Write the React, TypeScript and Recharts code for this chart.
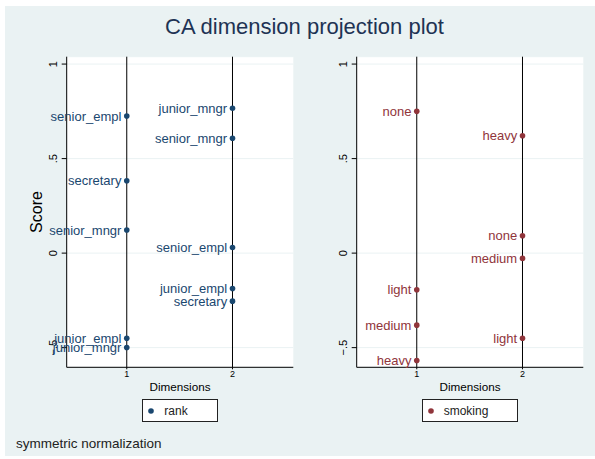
import {
  ScatterChart,
  Scatter,
  XAxis,
  YAxis,
  CartesianGrid,
  ReferenceLine,
  LabelList,
  Legend,
} from "recharts";

// rank categories, score on dimension 1 and dimension 2
const rankLabels = ["senior_mngr", "junior_mngr", "senior_empl", "junior_empl", "secretary"];
const rankDim1 = [0.122, -0.499, 0.725, -0.45, 0.383];
const rankDim2 = [0.608, 0.766, 0.03, -0.187, -0.254];

// smoking categories
const smokingLabels = ["none", "light", "medium", "heavy"];
const smokingDim1 = [0.75, -0.194, -0.381, -0.568];
const smokingDim2 = [0.092, -0.45, -0.028, 0.621];

const dimTicks = [1, 2];
const scoreTicks = [-0.5, 0, 0.5, 1];
const scoreTickLabels = ["\u2212.5", "0", ".5", "1"];

const FONT = '"Liberation Sans", Arial, Helvetica, sans-serif';
const BG = "#eaf2f3";
const NAVY = "#1a476f";
const MAROON = "#90353b";

function toPoints(labels: string[], d1: number[], d2: number[]) {
  const pts: { x: number; y: number; label: string }[] = [];
  labels.forEach((l, i) => {
    pts.push({ x: 1, y: d1[i], label: l });
    pts.push({ x: 2, y: d2[i], label: l });
  });
  return pts;
}

const rankPoints = toPoints(rankLabels, rankDim1, rankDim2);
const smokingPoints = toPoints(smokingLabels, smokingDim1, smokingDim2);

function ScoreTick(props: any) {
  const { x, y, payload } = props;
  const idx = scoreTicks.indexOf(payload.value);
  const bx = x - 5;
  return (
    <text
      x={bx}
      y={y}
      transform={`rotate(-90, ${bx}, ${y})`}
      textAnchor="middle"
      fontSize={11}
      fill="#000"
    >
      {idx >= 0 ? scoreTickLabels[idx] : payload.value}
    </text>
  );
}

function Panel({
  name,
  color,
  points,
  left,
  showScore,
}: {
  name: string;
  color: string;
  points: { x: number; y: number; label: string }[];
  left: number;
  showScore: boolean;
}) {
  const renderLegend = () => (
    <div style={{ display: "flex", justifyContent: "center", width: 360 }}>
      <div
        style={{
          display: "flex",
          alignItems: "center",
          height: 21,
          background: "#fff",
          border: "1px solid #222",
          paddingLeft: 5,
          paddingRight: 29,
          fontFamily: FONT,
          fontSize: 12,
          color: "#222",
        }}
      >
        <svg width={6} height={6} style={{ marginRight: 10 }}>
          <circle cx={3} cy={3} r={2.8} fill={color} />
        </svg>
        {name}
      </div>
    </div>
  );

  return (
    <div style={{ position: "absolute", left, top: 0 }}>
      <ScatterChart
        width={300}
        height={459}
        margin={{ top: 56.7, right: 6.7, bottom: 61.7, left: 46.7 }}
      >
        <CartesianGrid vertical={false} stroke={BG} fill="#fff" />
        <XAxis
          type="number"
          dataKey="x"
          domain={[0.432, 2.575]}
          ticks={dimTicks}
          allowDataOverflow
          height={30}
          tickSize={2}
          tickMargin={1}
          tick={{ fontSize: 9, fill: "#000" }}
          axisLine={{ stroke: "#000" }}
          tickLine={{ stroke: "#000" }}
          label={{ value: "Dimensions", position: "insideBottom", offset: 6, fill: "#000", fontSize: 11.7 }}
        />
        <YAxis
          type="number"
          dataKey="y"
          domain={[-0.604, 1.039]}
          ticks={scoreTicks}
          allowDataOverflow
          width={20}
          tickSize={5}
          tickMargin={0}
          tick={(p: any) => <ScoreTick {...p} />}
          axisLine={{ stroke: "#000" }}
          tickLine={{ stroke: "#000" }}
          label={
            showScore
              ? {
                  content: (p: any) => {
                    const vb = p.viewBox;
                    const cx = vb.x - 10.7;
                    const cy = vb.y + vb.height / 2;
                    return (
                      <text
                        x={cx}
                        y={cy}
                        transform={`rotate(-90, ${cx}, ${cy})`}
                        textAnchor="middle"
                        dominantBaseline="central"
                        fontSize={16}
                        fill="#000"
                      >
                        Score
                      </text>
                    );
                  },
                }
              : undefined
          }
        />
        <ReferenceLine x={1} stroke="#000" />
        <ReferenceLine x={2} stroke="#000" />
        <Scatter
          name={name}
          data={points}
          fill={color}
          isAnimationActive={false}
          shape={(p: any) => <circle cx={p.cx} cy={p.cy} r={2.8} fill={color} />}
        >
          <LabelList dataKey="label" position="left" offset={0.8} fill={color} fontSize={13} />
        </Scatter>
        <Legend
          layout="vertical"
          align="center"
          verticalAlign="middle"
          content={renderLegend}
          wrapperStyle={{ left: 0, top: 399.3, width: 360 }}
        />
      </ScatterChart>
    </div>
  );
}

export default function App() {
  return (
    <div
      style={{
        position: "absolute",
        left: 0,
        top: 0,
        width: 595,
        height: 459,
        background: "#fff",
        fontFamily: FONT,
        overflow: "hidden",
      }}
    >
      <div style={{ position: "absolute", left: 5, top: 6, width: 590, height: 450, background: BG }} />
      <div
        style={{
          position: "absolute",
          left: 0,
          top: 16,
          width: 609,
          textAlign: "center",
          fontSize: 22,
          lineHeight: "22px",
          color: "#1e3354",
        }}
      >
        CA dimension projection plot
      </div>
      <Panel name="rank" color={NAVY} points={rankPoints} left={0} showScore />
      <Panel name="smoking" color={MAROON} points={smokingPoints} left={290} showScore={false} />
      <div
        style={{
          position: "absolute",
          left: 16,
          top: 437,
          fontSize: 13.5,
          lineHeight: "13.5px",
          color: "#222",
        }}
      >
        symmetric normalization
      </div>
    </div>
  );
}
